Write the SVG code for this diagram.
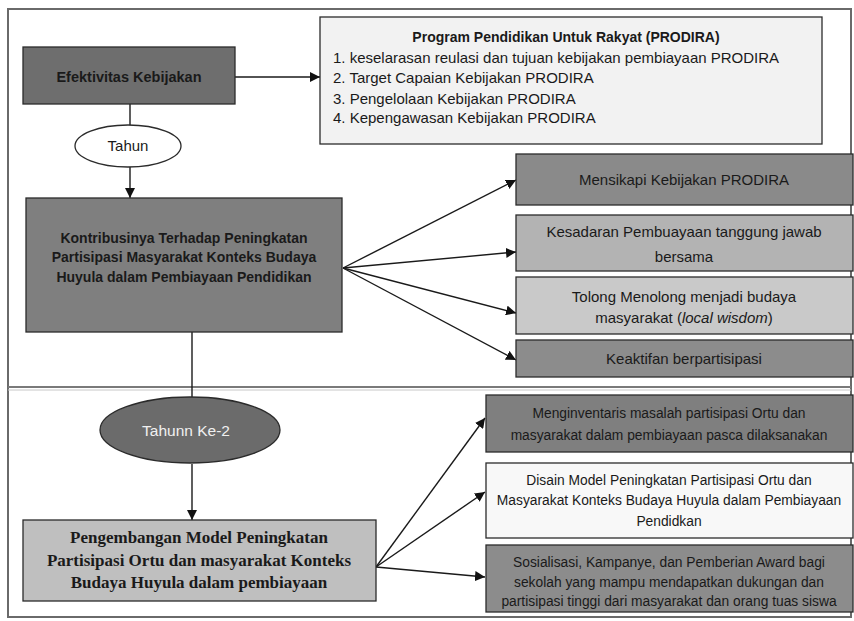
<svg xmlns="http://www.w3.org/2000/svg" width="854" height="621" viewBox="0 0 854 621">
<style>
.frame{fill:none;stroke:#6a6a6a;stroke-width:2}
.box{stroke:#2b2b2b;stroke-width:1.3}
.t{font-family:"Liberation Sans","Open Sans",sans-serif;font-size:15px;fill:#1a1a1a;text-anchor:middle}
.tl{font-family:"Liberation Sans","Open Sans",sans-serif;font-size:15px;fill:#1a1a1a}
.s{font-size:13.8px}
.b{font-weight:bold;font-size:14px}
.serif{font-family:"Liberation Serif","Times New Roman",serif;font-size:17px;font-weight:bold;fill:#1a1a1a;text-anchor:middle}
.conn line{stroke:#1a1a1a;stroke-width:1.4}
</style>
<defs>
<marker id="ah" viewBox="0 0 10 10" refX="10" refY="5" markerWidth="10" markerHeight="10" markerUnits="userSpaceOnUse" orient="auto">
<path d="M0,0 L10,5 L0,10 z" fill="#111"/>
</marker>
</defs>
<rect width="854" height="621" fill="#ffffff"/>
<g id="frame">
<rect class="frame" x="8" y="9" width="843" height="608"/>
<line x1="8" y1="387" x2="851" y2="387" stroke="#7a7a7a" stroke-width="2"/>
<line x1="8" y1="390" x2="851" y2="390" stroke="#c8c8c8" stroke-width="1"/>
</g>
<g class="conn">
<line x1="235" y1="77" x2="320" y2="77" marker-end="url(#ah)"/>
<line x1="130" y1="104" x2="130" y2="125"/>
<line x1="130" y1="167" x2="130" y2="198" marker-end="url(#ah)"/>
<line x1="343" y1="268" x2="516" y2="180" marker-end="url(#ah)"/>
<line x1="343" y1="268" x2="516" y2="252" marker-end="url(#ah)"/>
<line x1="343" y1="268" x2="516" y2="313" marker-end="url(#ah)"/>
<line x1="343" y1="268" x2="516" y2="360" marker-end="url(#ah)"/>
<line x1="192" y1="332" x2="192" y2="397"/>
<line x1="192" y1="464" x2="192" y2="520" marker-end="url(#ah)"/>
<line x1="376" y1="567" x2="485" y2="418" marker-end="url(#ah)"/>
<line x1="376" y1="567" x2="485" y2="492" marker-end="url(#ah)"/>
<line x1="376" y1="567" x2="485" y2="577" marker-end="url(#ah)"/>
</g>
<g id="efektivitas">
<rect class="box" x="23" y="47" width="212" height="57" fill="#6e6e6e"/>
<text class="t b" x="129" y="82" style="font-size:14.5px">Efektivitas Kebijakan</text>
</g>
<g id="prodira">
<rect class="box" x="320" y="17" width="502" height="127" fill="#f2f2f2"/>
<text class="t b" x="566" y="42">Program Pendidikan Untuk Rakyat (PRODIRA)</text>
<text class="tl" x="333" y="63">1. keselarasan reulasi dan tujuan kebijakan pembiayaan PRODIRA</text>
<text class="tl" x="333" y="83">2. Target Capaian Kebijakan PRODIRA</text>
<text class="tl" x="333" y="104">3. Pengelolaan Kebijakan PRODIRA</text>
<text class="tl" x="333" y="123">4. Kepengawasan Kebijakan PRODIRA</text>
</g>
<g id="tahun">
<ellipse cx="128" cy="146" rx="53" ry="21" fill="#ffffff" stroke="#2b2b2b" stroke-width="1.3"/>
<text class="t" x="128" y="151">Tahun</text>
</g>
<g id="kontribusinya">
<rect class="box" x="26" y="198" width="316" height="134" fill="#7f7f7f"/>
<text class="t b" x="184" y="243">Kontribusinya Terhadap Peningkatan</text>
<text class="t b" x="184" y="262">Partisipasi Masyarakat  Konteks Budaya</text>
<text class="t b" x="184" y="282">Huyula dalam Pembiayaan Pendidikan</text>
</g>
<g id="mensikapi">
<rect class="box" x="516" y="154" width="337" height="51" fill="#8a8a8a"/>
<text class="t" x="684" y="185">Mensikapi Kebijakan PRODIRA</text>
</g>
<g id="kesadaran">
<rect class="box" x="516" y="215" width="337" height="56" fill="#b3b3b3"/>
<text class="t" x="684" y="237">Kesadaran Pembuayaan tanggung jawab</text>
<text class="t" x="684" y="262">bersama</text>
</g>
<g id="tolong">
<rect class="box" x="516" y="277" width="337" height="57" fill="#c9c9c9"/>
<text class="t" x="684" y="302">Tolong Menolong menjadi budaya</text>
<text class="t" x="684" y="323">masyarakat (<tspan font-style="italic">local wisdom</tspan>)</text>
</g>
<g id="keaktifan">
<rect class="box" x="516" y="340" width="337" height="37" fill="#8c8c8c"/>
<text class="t" x="684" y="364">Keaktifan berpartisipasi</text>
</g>
<g id="tahunn-ke-2">
<ellipse cx="190" cy="430" rx="90" ry="33" fill="#6b6b6b" stroke="#2b2b2b" stroke-width="1.3"/>
<text class="t" x="186" y="436" style="fill:#f0f0f0;font-size:15.5px">Tahunn Ke-2</text>
</g>
<g id="pengembangan">
<rect class="box" x="23" y="520" width="353" height="81" fill="#bfbfbf"/>
<text class="serif" x="199" y="543">Pengembangan Model Peningkatan</text>
<text class="serif" x="199" y="566">Partisipasi Ortu dan masyarakat Konteks</text>
<text class="serif" x="199" y="588">Budaya Huyula dalam pembiayaan</text>
</g>
<g id="menginventaris">
<rect class="box" x="486" y="395" width="367" height="57" fill="#7f7f7f"/>
<text class="t s" x="669" y="418">Menginventaris masalah partisipasi Ortu dan</text>
<text class="t s" x="669" y="440">masyarakat dalam pembiayaan pasca dilaksanakan</text>
</g>
<g id="disain">
<rect class="box" x="486" y="463" width="367" height="75" fill="#f8f8f8"/>
<text class="t s" x="669" y="485">Disain Model Peningkatan Partisipasi Ortu dan</text>
<text class="t s" x="669" y="505">Masyarakat Konteks Budaya Huyula dalam Pembiayaan</text>
<text class="t s" x="669" y="526">Pendidkan</text>
</g>
<g id="sosialisasi">
<rect class="box" x="486" y="545" width="367" height="67" fill="#8c8c8c"/>
<text class="t s" x="669" y="567">Sosialisasi, Kampanye, dan Pemberian Award bagi</text>
<text class="t s" x="669" y="587">sekolah yang mampu mendapatkan dukungan dan</text>
<text class="t s" x="669" y="606">partisipasi tinggi dari masyarakat dan orang tuas siswa</text>
</g>
</svg>
